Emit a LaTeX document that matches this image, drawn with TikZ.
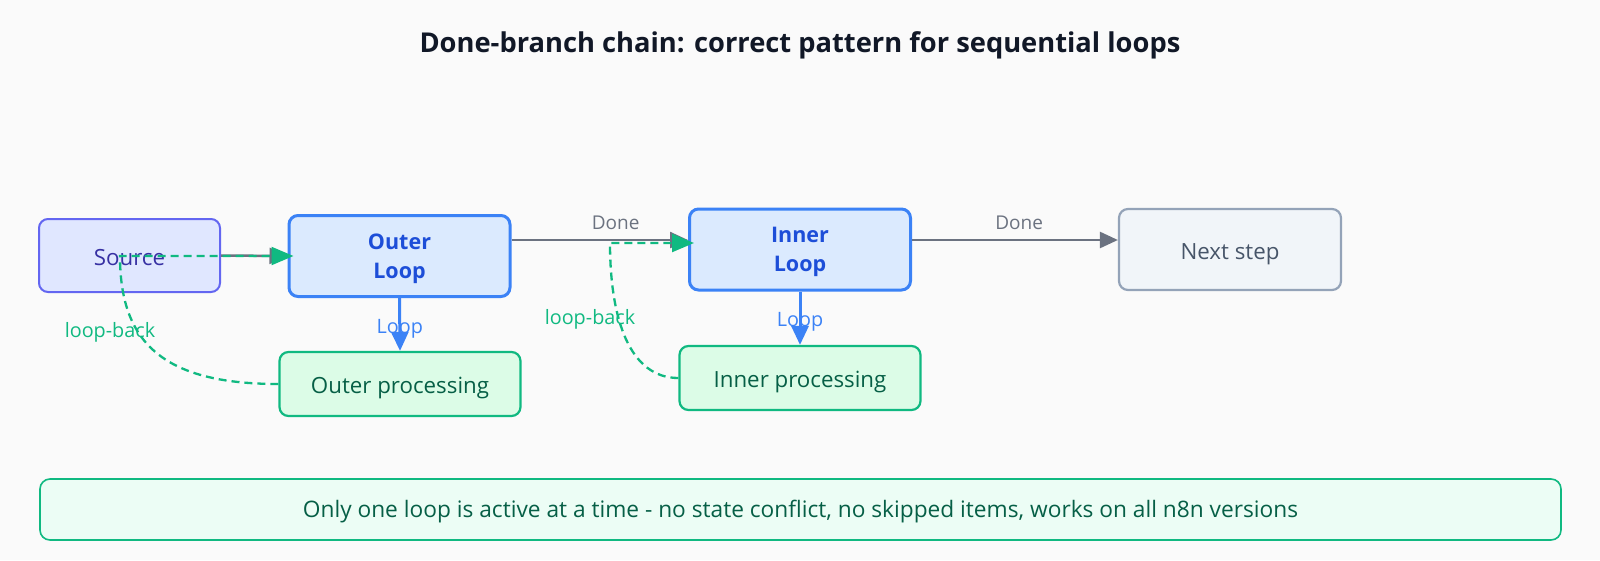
\documentclass[tikz,border=0pt]{standalone}
\usepackage{fontspec}
\setmainfont{Open Sans}
\usetikzlibrary{arrows.meta}
\definecolor{bgc}{HTML}{FAFAFA}
\definecolor{titlec}{HTML}{111827}
\definecolor{srcfill}{HTML}{E0E7FF}
\definecolor{srcdraw}{HTML}{6366F1}
\definecolor{srctext}{HTML}{3730A3}
\definecolor{loopfill}{HTML}{DBEAFE}
\definecolor{loopdraw}{HTML}{3B82F6}
\definecolor{looptext}{HTML}{1D4ED8}
\definecolor{procfill}{HTML}{DCFCE7}
\definecolor{procdraw}{HTML}{10B981}
\definecolor{proctext}{HTML}{065F46}
\definecolor{nextfill}{HTML}{F1F5F9}
\definecolor{nextdraw}{HTML}{94A3B8}
\definecolor{nexttext}{HTML}{475569}
\definecolor{grayc}{HTML}{6B7280}
\definecolor{notefill}{HTML}{ECFDF5}
\newcommand{\toplift}{\rule{0pt}{21pt}}
\begin{document}
\begin{tikzpicture}[x=1pt,y=-1pt,
  basebox/.style={draw, rounded corners=9pt, inner sep=0pt, align=center,
    font=\fontsize{22.3}{26}\selectfont},
  onebox/.style={basebox, text height=19pt, text depth=0pt},
  srcbox/.style={onebox, fill=srcfill, draw=srcdraw, line width=2pt, text=srctext,
    minimum width=181pt, minimum height=73pt},
  loopbox/.style={basebox, fill=loopfill, draw=loopdraw, line width=3pt, text=looptext,
    minimum width=221pt, minimum height=81pt, font=\bfseries\fontsize{21.5}{29}\selectfont},
  procbox/.style={onebox, fill=procfill, draw=procdraw, line width=2.2pt, text=proctext,
    minimum width=241pt, minimum height=64pt},
  nextbox/.style={onebox, fill=nextfill, draw=nextdraw, line width=2.2pt, text=nexttext,
    minimum width=222pt, minimum height=81pt},
  notebox/.style={basebox, fill=notefill, draw=procdraw, line width=1.6pt, text=proctext,
    rounded corners=10pt, minimum width=1521pt, minimum height=61pt,
    text height=16pt, text depth=0pt, font=\fontsize{22.7}{26}\selectfont},
  grayarrow/.style={draw=grayc, line width=2.5pt, -{Triangle[length=18pt,width=16pt]}},
  bluearrow/.style={draw=loopdraw, line width=3pt, -{Triangle[length=19pt,width=17pt]}},
  greendash/.style={draw=procdraw, line width=2.3pt, dash pattern=on 8pt off 5pt,
    -{Triangle[length=22pt,width=18pt]}},
  donelbl/.style={text=grayc, inner sep=0pt, font=\fontsize{19}{22}\selectfont},
  looplbl/.style={text=loopdraw, inner sep=0pt, font=\fontsize{19.8}{22}\selectfont},
  backlbl/.style={text=procdraw, inner sep=0pt, font=\fontsize{19.8}{22}\selectfont}
]
\useasboundingbox[fill=bgc] (0,0) rectangle (1600,560);
\node[text=titlec, font=\bfseries\fontsize{27.3}{31}\selectfont] (title) at (800,45)
  {Done-branch chain: correct pattern for sequential loops};

\node[srcbox] (src) at (129.5,255.5) {Source};
\node[loopbox] (outer) at (399.5,256) {\toplift Outer\\Loop};
\node[procbox] (outerp) at (400,384) {Outer processing};
\node[loopbox] (inner) at (800,249.5) {\toplift Inner\\Loop};
\node[procbox] (innerp) at (800,378) {Inner processing};
\node[nextbox] (next) at (1230,249.5) {Next step};
\node[notebox] (note) at (800.5,509.5)
  {Only one loop is active at a time - no state conflict, no skipped items, works on all n8n versions};

% main flow
\draw[grayarrow] (src.east) -- (outer.west);
\draw[grayarrow] ([yshift=16pt]outer.east) -- ([yshift=9.5pt]inner.west)
  node[donelbl, pos=0.59, yshift=17pt] (done1) {Done};
\draw[grayarrow] ([yshift=9.5pt]inner.east) -- ([yshift=9.5pt]next.west)
  node[donelbl, pos=0.52, yshift=17pt] (done2) {Done};

% loop branches
\draw[bluearrow] (outer.south) -- (outerp.north)
  node[looplbl, midway, yshift=-4pt] (loop1) {Loop};
\draw[bluearrow] (inner.south) -- (innerp.north)
  node[looplbl, midway, yshift=-4pt] (loop2) {Loop};

% loop-back connectors
\coordinate (lb1) at (120,256);
\coordinate (lb2) at (610,243);
\node[backlbl] (lbl1) at (110,332) {loop-back};
\node[backlbl] (lbl2) at (590,319) {loop-back};
\draw[greendash] (outerp.west) .. controls (160,384) and (120,340) .. (lb1)
  -- ([xshift=6pt]outer.west);
\draw[greendash] (innerp.west) .. controls (630,378) and (610,320) .. (lb2)
  -- ([xshift=6pt,yshift=6.5pt]inner.west);
\end{tikzpicture}
\end{document}
